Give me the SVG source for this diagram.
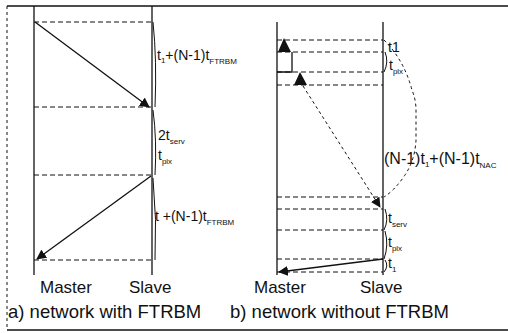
<svg xmlns="http://www.w3.org/2000/svg" width="508" height="333" viewBox="0 0 508 333">
<style>
text,tspan{font-family:"Liberation Sans",Arial,sans-serif;fill:#111}
.ln{stroke:#111;stroke-width:1.3;fill:none}
.ds{stroke:#111;stroke-width:1;stroke-dasharray:5,3;fill:none}
.dt{stroke:#111;stroke-width:1;stroke-dasharray:3,3;fill:none}
.br{stroke:#111;stroke-width:1;fill:none}
.lab{font-size:14px}
.sub{font-size:8px}
.big{font-size:16px}
.nm{font-size:17px}
.cap{font-size:18.5px}
</style>
<defs>
<marker id="ah" viewBox="0 0 10 10" refX="9" refY="5" markerWidth="10" markerHeight="10" orient="auto" markerUnits="userSpaceOnUse"><path d="M0,0L10,5L0,10z" fill="#111"/></marker>
</defs>
<g id="frame">
<line class="ln" x1="7" y1="6" x2="508" y2="6"/>
<line class="dt" x1="7" y1="6" x2="7" y2="330"/>
<line class="ln" x1="7" y1="330" x2="508" y2="330"/>
</g>
<g id="a-master"><line class="ln" x1="34" y1="6" x2="34" y2="275"/><text class="nm" x="40" y="293">Master</text></g>
<g id="a-slave"><line class="ln" x1="152" y1="6" x2="152" y2="275"/><text class="nm" x="129" y="293">Slave</text></g>
<g id="b-master"><line class="ln" x1="277" y1="22" x2="277" y2="275"/><text class="nm" x="254" y="293">Master</text></g>
<g id="b-slave"><line class="ln" x1="383" y1="22" x2="383" y2="275"/><text class="nm" x="360" y="293">Slave</text></g>
<g id="connectors">
<line class="ds" x1="34" y1="22" x2="152" y2="22"/>
<line class="ds" x1="34" y1="107" x2="152" y2="107"/>
<line class="ds" x1="34" y1="175" x2="152" y2="175"/>
<line class="ds" x1="34" y1="260" x2="152" y2="260"/>
<line class="ln" x1="35" y1="22" x2="149" y2="107" marker-end="url(#ah)"/>
<line class="ln" x1="151" y1="176" x2="37" y2="259" marker-end="url(#ah)"/>
<line class="ds" x1="277" y1="40" x2="383" y2="40"/>
<line class="ds" x1="277" y1="52" x2="383" y2="52"/>
<line class="ds" x1="277" y1="72" x2="383" y2="72"/>
<line class="ds" x1="277" y1="85" x2="383" y2="85"/>
<line class="ds" x1="277" y1="197" x2="383" y2="197"/>
<line class="ds" x1="277" y1="209" x2="383" y2="209"/>
<line class="ds" x1="277" y1="230" x2="383" y2="230"/>
<line class="ds" x1="277" y1="259" x2="383" y2="259"/>
<line class="ds" x1="277" y1="272" x2="383" y2="272"/>
<path d="M278,52L284,38L291,52z" fill="#111"/>
<path class="ln" d="M292,52V72H277"/>
<path d="M294,85L300,72L307,85z" fill="#111"/>
<line class="dt" x1="303" y1="86" x2="380" y2="207" marker-end="url(#ah)"/>
<line class="ln" x1="383" y1="259" x2="279" y2="272" marker-end="url(#ah)"/>
<path class="br" d="M153,22Q157,60 155,107"/>
<path class="br" d="M153,110Q157,140 155,175"/>
<path class="br" d="M153,178Q157,220 155,260"/>
<path class="dt" d="M384,40Q404,60 412,90Q416,100 416,110V140Q415,160 405,175Q395,190 384,197"/>
<path class="br" d="M385,52Q389,62 384,72"/>
<path class="br" d="M385,209Q389,220 384,230"/>
<path class="br" d="M385,231Q389,245 384,259"/>
<path class="br" d="M385,260Q389,266 384,272"/>
</g>
<g id="labels">
<text class="lab" x="157" y="60">t<tspan class="sub" dy="3">1</tspan><tspan dy="-3">+(N-1)t</tspan><tspan class="sub" dy="4">FTRBM</tspan></text>
<text class="lab" x="158" y="140">2t<tspan class="sub" dy="4">serv</tspan></text>
<text class="lab" x="158" y="160">t<tspan class="sub" dy="4">plx</tspan></text>
<text class="lab" x="155" y="221">t +(N-1)t<tspan class="sub" dy="4">FTRBM</tspan></text>
<text class="lab" x="388" y="52">t1</text>
<text class="lab" x="389" y="70">t<tspan class="sub" dy="4">plx</tspan></text>
<text class="big" x="384" y="164">(N-1)t<tspan class="sub" dy="3">1</tspan><tspan dy="-3">+(N-1)t</tspan><tspan class="sub" dy="4">NAC</tspan></text>
<text class="lab" x="388" y="223">t<tspan class="sub" dy="4">serv</tspan></text>
<text class="lab" x="388" y="247">t<tspan class="sub" dy="4">plx</tspan></text>
<text class="lab" x="388" y="268">t<tspan class="sub" dy="4">1</tspan></text>
<text class="cap" x="8" y="318">a) network with FTRBM</text>
<text class="cap" x="230" y="318">b) network without FTRBM</text>
</g>
</svg>
